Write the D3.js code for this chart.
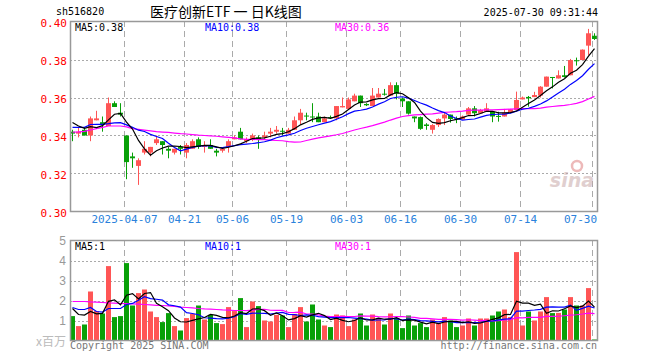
<!DOCTYPE html>
<html><head><meta charset="utf-8">
<script src="https://cdn.jsdelivr.net/npm/d3@7/dist/d3.min.js"></script>
<style>
html,body{margin:0;padding:0;background:#fff;}
svg{display:block;}
text{font-family:"DejaVu Sans Mono","Liberation Mono",monospace;}
</style></head>
<body><svg id="c" width="660" height="360"></svg>
<script>
const dates = ["03-24","03-25","03-26","03-27","03-28","03-31","04-01","04-02","04-03","04-07","04-08","04-09","04-10","04-11","04-14","04-15","04-16","04-17","04-18","04-21","04-22","04-23","04-24","04-25","04-28","04-29","04-30","05-06","05-07","05-08","05-09","05-12","05-13","05-14","05-15","05-16","05-19","05-20","05-21","05-22","05-23","05-26","05-27","05-28","05-29","05-30","06-03","06-04","06-05","06-06","06-09","06-10","06-11","06-12","06-13","06-16","06-17","06-18","06-19","06-20","06-23","06-24","06-25","06-26","06-27","06-30","07-01","07-02","07-03","07-04","07-07","07-08","07-09","07-10","07-11","07-14","07-15","07-16","07-17","07-18","07-21","07-22","07-23","07-24","07-25","07-28","07-29","07-30"];
const openP = [.342,.341,.343,.340,.348,.347,.345,.357,.352,.340, .329,.324,.331,.331,.336,.337,.333,.331,.334,.331, .333,.338,.334,.335,.332,.332,.334,.338,.342,.337, .338,.339,.339,.341,.342,.3425,.341,.343,.348,.3505, .350,.350,.347,.3497,.349,.3548,.354,.358,.361,.3566, .3555,.360,.362,.361,.3665,.3595,.358,.350,.3497,.3458, .343,.3455,.349,.351,.349,.3485,.351,.3543,.3517,.3525, .3525,.3503,.350,.352,.3534,.359,.3603,.3602,.361,.3657, .3708,.370,.3717,.3717,.3796,.3797,.3873,.3925];
const highP = [.343,.344,.344,.350,.353,.350,.360,.358,.357,.340, .331,.328,.337,.334,.340,.337,.334,.333,.335,.336, .338,.339,.337,.338,.333,.333,.338,.340,.344,.339, .341,.340,.342,.344,.345,.344,.344,.350,.354,.352, .357,.352,.350,.3505,.3555,.360,.360,.362,.361,.357, .365,.365,.3645,.368,.368,.360,.358,.350,.350,.3465, .346,.349,.352,.351,.350,.3505,.355,.3555,.354,.357, .3525,.3525,.354,.354,.3631,.3605,.3608,.363,.366,.371, .3708,.3743,.3766,.3803,.381,.3853,.3961,.3938];
const lowP = [.337,.339,.340,.337,.348,.342,.345,.355,.350,.317, .323,.314,.330,.329,.335,.330,.328,.330,.330,.328, .333,.333,.331,.333,.329,.331,.331,.338,.338,.336, .337,.333,.338,.339,.341,.340,.341,.343,.346,.348, .347,.347,.347,.349,.348,.3548,.354,.358,.355,.3555, .3555,.360,.361,.361,.359,.355,.351,.347,.343,.343, .341,.3445,.3455,.3468,.3465,.3485,.351,.350,.3517,.3525, .347,.3473,.350,.352,.3534,.359,.3552,.3602,.360,.3657, .3648,.370,.3705,.3717,.3768,.3797,.3824,.3903];
const closeP = [.341,.342,.340,.349,.349,.346,.357,.355,.351,.326, .328,.327,.333,.334,.338,.335,.332,.333,.333,.335, .337,.334,.335,.333,.331,.333,.337,.339,.338,.338, .340,.338,.340,.342,.343,.342,.343,.348,.352,.350, .3495,.347,.349,.3494,.3555,.3555,.359,.361,.357,.3559, .361,.362,.3615,.3665,.362,.358,.3515,.349,.3435,.345, .3455,.3487,.351,.3487,.3485,.350,.3543,.3517,.3534,.3543, .350,.350,.352,.3538,.3587,.360,.3596,.3613,.3657,.371, .3704,.3717,.3708,.3797,.3792,.3852,.3938,.3908];
const volume = [1.22,.72,.8,2.45,1.47,1.35,3.72,1.17,1.22,3.87, 1.75,2.37,2.55,1.45,1.17,.92,1.37,.72,.5,1.12, 1.33,1.75,1.05,1.28,.87,.82,1.67,1.47,2.12,.67, 1.95,1.72,1.0,.95,1.28,1.25,.67,1.33,1.67,.95, 1.8,1.05,.75,.67,1.3,1.25,.72,1.05,1.35,.75, 1.3,1.12,.8,1.35,1.12,.62,1.25,.75,.87,.67, 1.05,.87,1.17,1.0,.67,.75,1.1,.75,1.1,1.1, 1.25,1.45,1.55,1.17,4.42,.75,1.45,1.0,1.45,2.17, 1.37,1.38,1.55,2.17,1.75,1.75,2.62,.05];
const ma5Head = [.3468,.345,.3438,.3447];
const ma10Head = [.3443,.3443,.3443,.3458,.3459,.3459,.3462,.3466,.3468];
const ma30Head = [.3417,.3419,.3422,.3429,.3436,.3443,.345,.345,.345,.3445,.3436,.3432,.3428,.3424,.342,.3418,.3416,.3413,.341,.3408,.3405,.3402,.340,.3398,.3396,.3393,.339,.3387,.3382];
const vma5Head = [1.6,1.3,1.27,1.45];
const vma10Head = [1.65,1.55,1.55,1.65,1.45,1.42,1.6,1.6,1.6];
const vma30Head = [1.95,1.95,1.95,1.93,1.92,1.9,1.88,1.87,1.85,1.84,1.83,1.82,1.8,1.78,1.76,1.75,1.73,1.7,1.67,1.65,1.63,1.6,1.58,1.57,1.55,1.53,1.52,1.5,1.5];
const priceTicks = [0.30,0.32,0.34,0.36,0.38,0.40];
const volTicks = [1,2,3,4,5];
const tickDates = ["04-07","04-21","05-06","05-19","06-03","06-16","06-30","07-14","07-30"];
const tickLabels = ["2025-04-07","04-21","05-06","05-19","06-03","06-16","06-30","07-14","07-30"];
const priceMaLabels = ["MA5:0.38","MA10:0.38","MA30:0.36"];
const volMaLabels = ["MA5:1","MA10:1","MA30:1"];

function movingAvg(arr, n, head){
  return arr.map((v,i)=> i < n-1 ? head[i] : d3.mean(arr.slice(i-n+1,i+1)));
}

const svg = d3.select("#c");
const L = 70, R = 598;
const x = d3.scaleBand().domain(dates).range([L, R]).paddingInner(0).paddingOuter(0);
const bw = 5;
const cx = d => x(d) + 2.5;
const y = d3.scaleLinear().domain([0.30, 0.40]).range([211.5, 21.5]);
const yv = d3.scaleLinear().domain([0, 5]).range([340.5, 240.5]);
const RED = "#ff5555", GREEN = "#08a008";
const MACOL = ["#000","#0000ff","#ff00ff"];
const data = dates.map((d,i)=>({d, o:openP[i], h:highP[i], l:lowP[i], c:closeP[i], v:volume[i]}));
const up = d => d.c >= d.o;

// ---------- header ----------
svg.append("text").attr("x",56).attr("y",15).attr("font-size",10).attr("fill","#000").text("sh516820");
svg.append("text").attr("x",150).attr("y",17).attr("font-size",14).attr("fill","#000")
  .style("font-family","'Noto Sans CJK SC',sans-serif").text("医疗创新ETF 一 日K线图");
svg.append("text").attr("x",598).attr("y",16).attr("font-size",10).attr("text-anchor","end").attr("fill","#000").text("2025-07-30 09:31:44");

// ---------- price panel ----------
const gp = svg.append("g");
gp.selectAll("line.hg").data(priceTicks.slice(1,-1)).join("line")
  .attr("x1",L).attr("x2",R).attr("y1",d=>Math.round(y(d))+0.5).attr("y2",d=>Math.round(y(d))+0.5)
  .attr("stroke","#aaa").attr("stroke-dasharray","2,2");
gp.selectAll("line.vg").data(tickDates).join("line")
  .attr("x1",d=>x(d)+0.5).attr("x2",d=>x(d)+0.5).attr("y1",21).attr("y2",211)
  .attr("stroke","#aaa").attr("stroke-dasharray","6,4");
const yAxis = d3.axisLeft(y).tickValues(priceTicks).tickFormat(d3.format(".2f")).tickSize(0).tickPadding(3);
const ya = svg.append("g").attr("transform",`translate(${L},1)`).call(yAxis);
ya.select(".domain").remove();
ya.selectAll("text").attr("fill","#f00").attr("font-size",11).style("font-family","'DejaVu Sans Mono',monospace");
svg.selectAll("text.dl").data(tickDates).join("text")
  .attr("x",(d,i)=>{ const w = tickLabels[i].length*6.6; const c = x(d)+0.5; return Math.min(c, 597 - w/2); })
  .attr("y",223).attr("text-anchor","middle").attr("font-size",11).attr("fill","#2a82dc")
  .text((d,i)=>tickLabels[i]);

// candles
const gc = svg.append("g");
gc.selectAll("line.w").data(data).join("line")
  .attr("x1",d=>x(d.d)+2.5).attr("x2",d=>x(d.d)+2.5)
  .attr("y1",d=>y(d.h)).attr("y2",d=>y(d.l))
  .attr("stroke",d=>up(d)?RED:GREEN).attr("stroke-width",1);
gc.selectAll("rect.b").data(data).join("rect")
  .attr("x",d=>x(d.d)).attr("width",bw)
  .attr("y",d=>y(Math.max(d.o,d.c)))
  .attr("height",d=>Math.max(1, Math.abs(y(d.o)-y(d.c))))
  .attr("fill",d=>up(d)?RED:GREEN);

const ma5 = movingAvg(closeP,5,ma5Head), ma10 = movingAvg(closeP,10,ma10Head), ma30 = movingAvg(closeP,30,ma30Head);
const lineP = d3.line().x((v,i)=>cx(dates[i])).y(v=>y(v));
[[ma30,MACOL[2]],[ma10,MACOL[1]],[ma5,MACOL[0]]].forEach(([arr,col])=>{
  svg.append("path").attr("d",lineP(arr)).attr("fill","none").attr("stroke",col).attr("stroke-width",1.2);
});
svg.append("rect").attr("x",L+0.5).attr("y",21.5).attr("width",R-L-1).attr("height",190).attr("fill","none").attr("stroke","#999").attr("stroke-width",1.5);
priceMaLabels.forEach((t,i)=>{
  svg.append("text").attr("x",75+130*i).attr("y",31).attr("font-size",10).attr("fill",MACOL[i]).text(t);
});

// sina watermark
const wm = svg.append("g").attr("opacity",0.55);
wm.append("text").attr("x",594).attr("y",187).attr("text-anchor","end").attr("font-size",19).attr("font-weight","bold").attr("font-style","italic")
  .attr("fill","#c8a8a8").style("font-family","'DejaVu Sans',sans-serif").text("sina");
wm.append("circle").attr("cx",577).attr("cy",166).attr("r",5).attr("fill","none").attr("stroke","#e08080").attr("stroke-width",2.5);

// ---------- volume panel ----------
svg.selectAll("line.vhg").data(volTicks.slice(0,-1)).join("line")
  .attr("x1",L).attr("x2",R).attr("y1",d=>Math.round(yv(d))+0.5).attr("y2",d=>Math.round(yv(d))+0.5)
  .attr("stroke","#aaa").attr("stroke-dasharray","2,2");
svg.selectAll("line.vvg").data(tickDates).join("line")
  .attr("x1",d=>x(d)+0.5).attr("x2",d=>x(d)+0.5).attr("y1",240).attr("y2",340)
  .attr("stroke","#aaa").attr("stroke-dasharray","6,4");
svg.append("g").selectAll("rect").data(data).join("rect")
  .attr("x",d=>x(d.d)).attr("width",bw)
  .attr("y",d=>yv(d.v)).attr("height",d=>yv(0)-yv(d.v))
  .attr("fill",d=>up(d)?RED:GREEN);
const vma5 = movingAvg(volume,5,vma5Head), vma10 = movingAvg(volume,10,vma10Head), vma30 = movingAvg(volume,30,vma30Head);
const lineV = d3.line().x((v,i)=>cx(dates[i])).y(v=>yv(v));
[[vma30,MACOL[2]],[vma10,MACOL[1]],[vma5,MACOL[0]]].forEach(([arr,col])=>{
  svg.append("path").attr("d",lineV(arr)).attr("fill","none").attr("stroke",col).attr("stroke-width",1.2);
});
svg.append("rect").attr("x",L+0.5).attr("y",240.5).attr("width",R-L-1).attr("height",100).attr("fill","none").attr("stroke","#999").attr("stroke-width",1.5);
const va = svg.append("g").attr("transform",`translate(${L},0)`)
  .call(d3.axisLeft(yv).tickValues(volTicks).tickFormat(d3.format("d")).tickSize(0).tickPadding(4));
va.select(".domain").remove();
va.selectAll("text").attr("fill","#999").attr("font-size",12).style("font-family","'Liberation Sans',Arial,sans-serif");
svg.append("text").attr("x",66).attr("y",346).attr("text-anchor","end").attr("font-size",12).attr("fill","#bbb")
  .style("font-family","'Noto Sans CJK SC',sans-serif").text("x百万");
volMaLabels.forEach((t,i)=>{
  svg.append("text").attr("x",75+130*i).attr("y",250).attr("font-size",10).attr("fill",MACOL[i]).text(t);
});
svg.append("text").attr("x",70).attr("y",349).attr("font-size",10).attr("fill","#777").text("Copyright 2025 SINA.COM");
svg.append("text").attr("x",597).attr("y",349).attr("text-anchor","end").attr("font-size",10).attr("fill","#777").text("http://finance.sina.com.cn");
</script></body></html>
